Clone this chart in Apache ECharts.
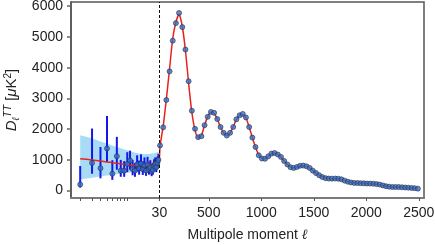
<!DOCTYPE html>
<html><head><meta charset="utf-8">
<script src="https://cdn.jsdelivr.net/npm/echarts@6/dist/echarts.min.js"></script>
<style>html,body{margin:0;padding:0;background:#fff}#c{width:435px;height:245px}</style>
</head><body><div id="c"></div>
<script>
// ---- data (D_ell^TT in muK^2) ----
const lowL     = [2,3,4,5,6,7,8,9,10,11,12,13,14,15,16,17,18,19,20,21,22,23,24,25,26,27,28,29];
const lowD     = [200,900,730,1370,550,1120,650,650,870,980,700,650,850,720,880,700,820,650,850,700,760,620,680,800,870,760,900,1000];
const lowErrLo = [100,550,400,930,350,680,450,450,600,680,500,450,620,520,650,510,600,480,640,520,580,470,520,620,680,600,720,820];
const lowErrHi = [800,2020,1420,2430,990,1750,1000,960,1250,1300,1000,900,1150,980,1180,950,1080,880,1100,920,990,820,880,1020,1080,960,1110,1200];
const cvLo     = [360,420,460,490,515,535,550,565,580,590,600,605,610,615,620,625,630,635,645,655,665,675,690,705,720,735,750,770];
const cvHi     = [1800,1700,1600,1530,1470,1420,1380,1340,1310,1280,1260,1240,1220,1210,1200,1195,1190,1190,1190,1195,1200,1205,1210,1220,1230,1240,1250,1260];
const lowModel = [1040,1000,965,935,910,890,870,855,840,830,822,815,812,810,810,812,815,820,830,840,852,866,882,900,920,945,970,1000];

const binL = [36,66,96,127,157,187,217,248,278,308,339,369,399,430,460,490,521,551,581,612,642,672,703,733,763,794,824,854,885,915,945,976,1006,1036,1067,1097,1127,1158,1188,1218,1249,1279,1309,1340,1370,1400,1431,1461,1491,1522,1552,1582,1613,1643,1673,1704,1734,1764,1795,1825,1855,1886,1916,1946,1977,2007,2037,2068,2098,2128,2159,2189,2219,2250,2280,2310,2341,2371,2401,2432,2462,2492];
const binModel = [1450,2100,2970,3980,4950,5480,5740,5340,4560,3500,2550,1970,1720,1790,2130,2410,2550,2520,2330,2070,1870,1790,1870,2080,2310,2460,2480,2370,2070,1730,1420,1160,1050,1040,1110,1195,1220,1180,1090,970,850,765,745,770,800,810,790,740,655,570,500,445,408,393,390,390,385,365,328,292,266,252,246,241,235,230,226,222,210,195,170,147,130,120,116,113,108,102,96,88,80,70];
const binD     = [1470,2060,2950,3880,4880,5450,5780,5320,4590,3560,2600,2010,1740,1770,2130,2400,2560,2530,2330,2070,1880,1790,1880,2070,2320,2450,2495,2380,2070,1725,1420,1150,1045,1035,1115,1205,1225,1175,1095,965,850,760,740,770,810,815,790,740,650,570,500,440,405,392,390,392,388,368,325,290,265,250,248,242,236,230,228,225,212,198,168,143,127,118,117,116,108,102,96,88,80,65];
const modelBreakL = 30, modelBreakD = 1060;

const xTickL  = [2,3,4,5,6,7,8,9,10,30,500,1000,1500,2000,2500];
const xLabelL = [30,500,1000,1500,2000,2500];
const yTicks  = [0,1000,2000,3000,4000,5000,6000];

// ---- hybrid axis: log below ell=30, linear above ----
const DEC = 641.5;
function toU(l){ return l >= 30 ? l : 30 + (Math.log10(l) - Math.log10(30)) * DEC; }
const X_MIN = -812, X_MAX = 2550, Y_MIN = -240, Y_MAX = 6137;

const FONT = '"Liberation Sans", Arial, Helvetica, sans-serif';
const modelPts = lowL.map((l,i)=>[toU(l), lowModel[i]])
  .concat([[toU(modelBreakL), modelBreakD]])
  .concat(binL.map((l,i)=>[toU(l), binModel[i]]));
const dotPts = lowL.map((l,i)=>[toU(l), lowD[i]]).concat(binL.map((l,i)=>[toU(l), binD[i]]));

const chart = echarts.init(document.getElementById('c'), null, {renderer:'canvas'});
chart.setOption({
  animation:false,
  grid:{left:71,right:11,top:2,bottom:47,containLabel:false,outerBoundsMode:'none',
        show:true,borderColor:'#555',borderWidth:1.5,backgroundColor:'transparent'},
  xAxis:{
    type:'value', min:X_MIN, max:X_MAX,
    axisLine:{show:true,onZero:false,lineStyle:{color:'#7a7a7a',width:2}},
    axisTick:{show:true,inside:false,length:3,customValues:xTickL.map(toU),lineStyle:{color:'#555',width:1}},
    axisLabel:{customValues:xLabelL.map(toU),formatter:v=>String(Math.round(v)),color:'#222',fontFamily:FONT,fontSize:14,margin:8},
    splitLine:{show:false},
    name:'{a|Multipole moment }{l|ℓ}', nameLocation:'middle', nameGap:30,
    nameTextStyle:{rich:{a:{fontFamily:FONT,fontSize:14,color:'#222'},l:{fontFamily:'"DejaVu Serif", serif',fontStyle:'italic',fontSize:14,color:'#222'}}}
  },
  yAxis:{
    type:'value', min:Y_MIN, max:Y_MAX,
    axisLine:{show:true,onZero:false,lineStyle:{color:'#555',width:1.5}},
    axisTick:{show:true,inside:false,length:4,customValues:yTicks,lineStyle:{color:'#666',width:1.5}},
    axisLabel:{customValues:yTicks,formatter:v=>String(Math.round(v)),color:'#222',fontFamily:FONT,fontSize:14,margin:8},
    splitLine:{show:false},
    name:'{d|D}{s|ℓ}{p|TT}{n| [}{m|μ}{n|K}{q|2}{n|]}', nameLocation:'middle', nameRotate:90, nameGap:46,
    nameTextStyle:{rich:{
      d:{fontFamily:FONT,fontStyle:'italic',fontSize:15,color:'#222',lineHeight:18},
      s:{fontFamily:FONT,fontStyle:'italic',fontSize:10,color:'#222',lineHeight:10,verticalAlign:'bottom'},
      p:{fontFamily:FONT,fontStyle:'italic',fontSize:10,color:'#222',lineHeight:10,verticalAlign:'top'},
      n:{fontFamily:FONT,fontSize:15,color:'#222',lineHeight:18},
      m:{fontFamily:FONT,fontStyle:'italic',fontSize:15,color:'#222',lineHeight:18},
      q:{fontFamily:FONT,fontSize:10,color:'#222',lineHeight:10,verticalAlign:'top'}
    }}
  },
  series:[
    {type:'custom',z:1,silent:true,data:[[toU(lowL[0]),cvLo[0]]],encode:{x:0,y:1},
      renderItem:(params,api)=>{
        const pts=[];
        lowL.forEach((l,i)=>pts.push(api.coord([toU(l),cvHi[i]])));
        for(let i=lowL.length-1;i>=0;i--) pts.push(api.coord([toU(lowL[i]),cvLo[i]]));
        return {type:'polygon',shape:{points:pts},style:{fill:'#a8dcf6'}};
      }},
    {type:'custom',z:3,silent:true,
      data:lowL.map((l,i)=>[toU(l),lowErrLo[i],lowErrHi[i]]),
      encode:{x:0,y:[1,2]},
      renderItem:(params,api)=>{
        const a=api.coord([api.value(0),api.value(1)]), b=api.coord([api.value(0),api.value(2)]);
        return {type:'line',shape:{x1:a[0],y1:a[1],x2:b[0],y2:b[1]},style:{stroke:'#1515f0',lineWidth:2}};
      }},
    {type:'line',data:modelPts,symbol:'none',smooth:0.2,lineStyle:{color:'#e8221c',width:1.5},z:4,silent:true,
      markLine:{silent:true,symbol:['none','none'],label:{show:false},
        lineStyle:{type:[3,2],color:'#111',width:1},data:[{xAxis:toU(30)}]}},
    {type:'scatter',data:dotPts,symbol:'circle',symbolSize:5,
      itemStyle:{color:'#2f70d8',borderColor:'#333',borderWidth:0.8},z:5,silent:true}
  ]
});
</script></body></html>
